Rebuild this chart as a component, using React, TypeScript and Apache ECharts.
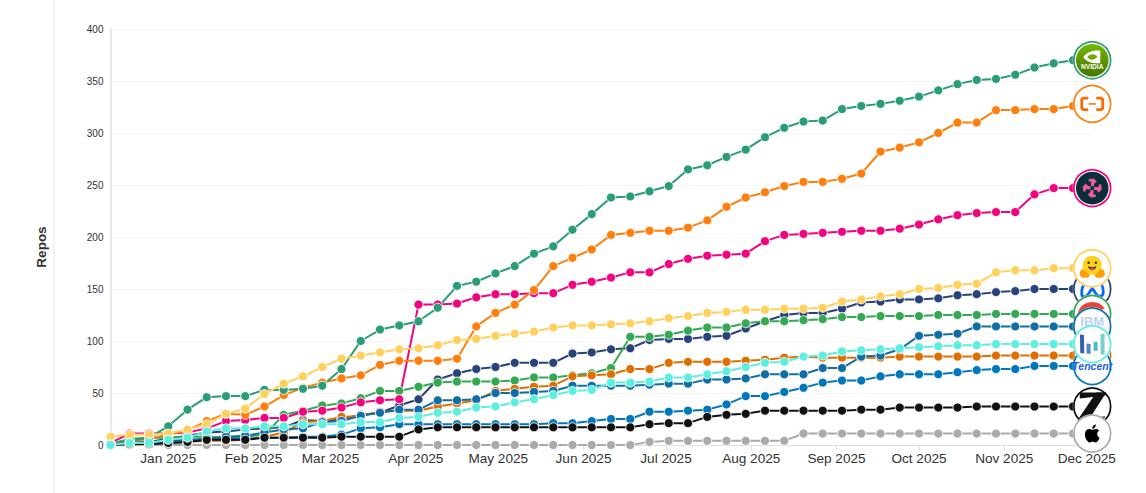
import React, { useEffect, useRef } from "react";
import * as echarts from "echarts";

const weeks = [
  "2024-12-11","2024-12-18","2024-12-25","2025-01-01","2025-01-08","2025-01-15","2025-01-22","2025-01-29",
  "2025-02-05","2025-02-12","2025-02-19","2025-02-26","2025-03-05","2025-03-12","2025-03-19","2025-03-26",
  "2025-04-02","2025-04-09","2025-04-16","2025-04-23","2025-04-30","2025-05-07","2025-05-14","2025-05-21","2025-05-28",
  "2025-06-04","2025-06-11","2025-06-18","2025-06-25","2025-07-02","2025-07-09","2025-07-16","2025-07-23","2025-07-30",
  "2025-08-06","2025-08-13","2025-08-20","2025-08-27","2025-09-03","2025-09-10","2025-09-17","2025-09-24",
  "2025-10-01","2025-10-08","2025-10-15","2025-10-22","2025-10-29","2025-11-05","2025-11-12","2025-11-19","2025-11-26","2025-12-03",
];
const monthTicks = ["2025-01-01","2025-02-01","2025-03-01","2025-04-01","2025-05-01","2025-06-01","2025-07-01","2025-08-01","2025-09-01","2025-10-01","2025-11-01","2025-12-01"];
const monthLabels = ["Jan 2025","Feb 2025","Mar 2025","Apr 2025","May 2025","Jun 2025","Jul 2025","Aug 2025","Sep 2025","Oct 2025","Nov 2025","Dec 2025"];

const nvidia = [1,4,7,18,34,46,47,47,53,53,54,57,73,100,111,115,119,132,153,157,165,172,184,191,207,222,238,239,244,249,265,269,277,284,296,305,311,312,323,326,328,331,335,341,347,351,352,356,363,367,370,370];
const alibaba = [1,3,6,10,14,23,30,29,37,48,55,60,64,67,77,81,81,81,83,114,127,135,149,172,180,188,202,204,206,206,209,216,229,238,243,249,253,253,256,261,282,286,291,300,310,310,322,322,323,323,326,328];
const pinkOrg = [2,11,11,11,12,16,23,24,26,26,32,33,36,41,43,44,135,135,136,142,145,145,146,146,154,157,161,166,166,174,179,182,183,184,196,202,203,204,205,206,206,208,212,217,221,223,224,224,241,247,247,247];
const huggingface = [8,10,10,11,15,20,30,35,49,59,66,75,83,86,89,92,93,96,101,102,105,107,109,113,115,115,116,117,119,122,124,127,128,130,130,131,131,132,138,140,143,145,150,151,154,155,166,168,168,170,170,170];
const meta = [2,2,3,6,9,12,13,15,16,17,24,23,25,29,31,38,44,63,69,73,75,79,79,79,88,89,92,93,101,102,102,104,105,112,119,125,127,127,131,137,138,140,140,141,144,145,147,148,150,150,150,150];
const google = [1,6,7,7,8,8,7,8,10,29,33,38,40,45,52,52,56,60,61,61,61,62,65,65,67,69,74,104,104,106,110,113,113,117,119,119,120,121,123,123,124,124,124,125,125,125,126,126,126,126,126,126];
const ibm = [0,2,3,4,5,6,8,9,12,15,16,22,23,28,31,34,34,43,43,44,50,50,51,52,57,57,57,57,58,59,59,63,63,64,68,68,68,74,74,85,86,92,105,106,107,114,114,114,114,114,114,114];
const darkOrangeOrg = [1,2,2,3,3,4,4,5,8,12,22,23,27,28,32,33,33,37,40,43,52,54,56,57,66,67,68,73,73,79,80,80,80,81,82,84,85,84,84,84,84,85,85,85,85,85,86,86,86,86,86,86];
const barsOrg = [0,2,2,5,7,13,16,16,18,18,20,20,20,22,22,26,27,31,32,36,37,41,44,48,52,53,60,60,61,65,65,68,71,75,79,80,85,86,90,91,92,93,94,95,96,96,97,97,97,97,97,97];
const tencent = [0,1,1,2,3,5,6,6,7,7,8,8,10,16,17,20,20,20,20,20,20,20,20,21,21,23,25,25,32,32,33,34,39,47,47,51,55,60,62,62,66,68,68,68,70,72,73,73,76,76,76,76];
const zhipu = [0,1,1,2,3,5,5,5,7,7,7,7,8,8,8,8,15,17,17,17,17,17,17,17,17,17,17,17,20,21,21,27,29,30,33,33,33,33,33,34,34,36,36,36,36,37,37,37,37,37,37,37];
const apple = [0,0,0,0,0,0,0,0,0,0,0,0,0,0,0,0,0,0,0,0,0,0,0,0,0,0,0,0,3,4,4,4,4,4,4,4,11,11,11,11,11,11,11,11,11,11,11,11,11,11,11,11];

const toTs = (s: string) => Date.parse(s + "T00:00:00Z");
const weekTs = weeks.map(toTs);
const tickTs = monthTicks.map(toTs);

const lineOrder: [string, number[], string][] = [
  ["Apple", apple, "#aaaaaa"],
  ["Meta", meta, "#27437a"],
  ["Google", google, "#34a853"],
  ["Pink", pinkOrg, "#f0047f"],
  ["Alibaba", alibaba, "#ff7f0e"],
  ["NVIDIA", nvidia, "#2a9d77"],
  ["Hugging Face", huggingface, "#ffd15c"],
  ["DarkOrange", darkOrangeOrg, "#df6f00"],
  ["Tencent", tencent, "#0077bb"],
  ["IBM", ibm, "#0f6ea5"],
  ["Zhipu", zhipu, "#111111"],
  ["Bars", barsOrg, "#5eeee0"],
];
const logoOrder = ["NVIDIA", "Alibaba", "Pink", "DarkOrange", "Tencent", "Meta", "Google", "Hugging Face", "IBM", "Zhipu", "Apple", "Bars"];

const APPLE_D =
  "M12.152 6.896c-.948 0-2.415-1.078-3.96-1.04-2.04.027-3.91 1.183-4.961 3.014-2.117 3.675-.546 9.103 1.519 12.09 1.013 1.454 2.208 3.09 3.792 3.039 1.52-.065 2.09-.987 3.935-.987 1.831 0 2.35.987 3.96.948 1.637-.026 2.676-1.48 3.676-2.948 1.156-1.688 1.636-3.325 1.662-3.415-.039-.013-3.182-1.221-3.22-4.857-.026-3.04 2.48-4.494 2.597-4.559-1.429-2.09-3.623-2.324-4.39-2.376-2-.156-3.675 1.09-4.61 1.09zM15.53 3.83c.843-1.012 1.4-2.427 1.245-3.83-1.207.052-2.662.805-3.532 1.818-.78.896-1.454 2.338-1.273 3.714 1.338.104 2.715-.688 3.559-1.701";

function rect(x: number, y: number, w: number, h: number, fill: string, r = 0) {
  return { type: "rect", shape: { x, y, width: w, height: h, r }, style: { fill } };
}
function poly(points: number[][], fill: string) {
  return { type: "polygon", shape: { points }, style: { fill } };
}
function logoParts(name: string): any[] {
  switch (name) {
    case "NVIDIA":
      return [
        {
          type: "circle",
          shape: { cx: 0, cy: 0, r: 16.3 },
          style: {
            fill: new echarts.graphic.LinearGradient(0, 0, 0, 1, [
              { offset: 0, color: "#76b900" },
              { offset: 1, color: "#477400" },
            ]),
          },
        },
        { type: "path", shape: { pathData: "M-9 -3 C-5 -9 2 -10 8 -9.5 L8 3 C2 3.5 -5 2.5 -9 -3 Z" }, style: { fill: "#ffffff" } },
        { type: "path", shape: { pathData: "M-5 -3 C-2 -7 3 -6.5 5 -3.5 C3 -0.5 -2 1 -5 -3 Z" }, style: { fill: "#6da900" } },
        { type: "text", style: { x: 0, y: 6, text: "NVIDIA", fill: "#ffffff", font: "bold 6.6px Liberation Sans", align: "center", verticalAlign: "middle" } },
      ];
    case "Alibaba":
      return [
        { type: "polyline", shape: { points: [[-4, -5.8], [-9, -5.8], [-10.5, -4.5], [-10.5, 4.5], [-9, 5.8], [-4, 5.8]] }, style: { stroke: "#ff6a00", lineWidth: 2.8, fill: "none" } },
        { type: "polyline", shape: { points: [[4, -5.8], [9, -5.8], [10.5, -4.5], [10.5, 4.5], [9, 5.8], [4, 5.8]] }, style: { stroke: "#ff6a00", lineWidth: 2.8, fill: "none" } },
        rect(-3.5, -0.7, 7, 1.5, "#ff6a00"),
      ];
    case "Pink": {
      const arm = [[-1.2, -1.8], [-1.2, -6.5], [-3.5, -6.5], [-3.5, -9], [1.5, -9.5], [4.5, -6.5], [1.8, -4], [1.8, -1.8]];
      const rot = (p: number[], k: number) =>
        k === 0 ? p : k === 1 ? [-p[1], p[0]] : k === 2 ? [-p[0], -p[1]] : [p[1], -p[0]];
      return [
        { type: "circle", shape: { cx: 0, cy: 0, r: 16.3 }, style: { fill: "#0b2f38" } },
        ...[0, 1, 2, 3].map((k) => poly(arm.map((p) => rot(p, k)), "#ee5a9c")),
      ];
    }
    case "Hugging Face":
      return [
        { type: "circle", shape: { cx: 0, cy: -3, r: 9.5 }, style: { fill: "#ffd21e" } },
        { type: "circle", shape: { cx: -3.6, cy: -5.5, r: 1.3 }, style: { fill: "#3a3b45" } },
        { type: "circle", shape: { cx: 3.6, cy: -5.5, r: 1.3 }, style: { fill: "#3a3b45" } },
        { type: "path", shape: { pathData: "M-4.2 -2 C-2 -1 2 -1 4.2 -2 C3.5 3 -3.5 3 -4.2 -2 Z" }, style: { fill: "#3a3b45" } },
        { type: "circle", shape: { cx: 0, cy: 0.6, r: 1.6 }, style: { fill: "#ef4e4e" } },
        { type: "path", shape: { pathData: "M-12.5 7 C-13 2 -10 0 -8 1.5 L-3 6 C-2 9 -4.5 9.5 -6 9.5 L-10 9.5 Z" }, style: { fill: "#ff9d0b" } },
        { type: "path", shape: { pathData: "M12.5 7 C13 2 10 0 8 1.5 L3 6 C2 9 4.5 9.5 6 9.5 L10 9.5 Z" }, style: { fill: "#ff9d0b" } },
      ];
    case "Meta":
      return [
        {
          type: "path",
          shape: { pathData: "M-10.5 5 C-11 -5 -5 -9 0 -1 L3.5 4.5 C6.5 9 11 8 11 3 C11 -7 5 -9 0 -1 L-3.5 4.5 C-6.5 9 -10.3 9 -10.5 5" },
          style: { fill: "none", stroke: "#0866ff", lineWidth: 2.8 },
        },
      ];
    case "Google":
      return [
        { type: "arc", shape: { cx: 0, cy: 3, r: 12.5, startAngle: (-165 * Math.PI) / 180, endAngle: (-35 * Math.PI) / 180, clockwise: true }, style: { fill: "none", stroke: "#ea4335", lineWidth: 5 } },
        { type: "arc", shape: { cx: 0, cy: 3, r: 12.5, startAngle: (150 * Math.PI) / 180, endAngle: (195 * Math.PI) / 180, clockwise: true }, style: { fill: "none", stroke: "#fbbc05", lineWidth: 5 } },
      ];
    case "IBM":
      return [
        { type: "text", style: { x: 0, y: -5, text: "IBM", fill: "#bcd0ee", font: "bold 13px Liberation Sans", align: "center", verticalAlign: "middle" } },
      ];
    case "Tencent":
      return [
        { type: "text", style: { x: 0, y: 0.5, text: "Tencent", fill: "#1f5fe0", font: "italic bold 10.5px Liberation Sans", align: "center", verticalAlign: "middle" } },
      ];
    case "Bars":
      return [
        poly([[-12.3, -9.7], [-8.3, -9], [-8, 9.3], [-12, 9]], "#3a5fb0"),
        poly([[-5.7, -0.7], [-1.7, 0], [-1.7, 10], [-5.7, 9.5]], "#4a86c8"),
        rect(1.3, -2.3, 4, 9, "#45c0c0"),
        poly([[8.3, -10], [12.3, -10.7], [12.3, 10.7], [8.3, 10.2]], "#7ccfc8"),
      ];
    case "Zhipu":
      return [
        poly([[-12.5, -14], [13, -14], [13, -11], [-12.5, -8]], "#111111"),
        poly([[4, -14], [14, -14], [-4, 14], [-15, 14]], "#111111"),
        poly([[1, 10.5], [13, 10], [11, 14], [-1, 14]], "#111111"),
      ];
    case "Apple":
      return [
        { type: "path", shape: { pathData: APPLE_D, x: -7.8, y: -9, width: 15.6, height: 18 }, style: { fill: "#000000" } },
      ];
    default:
      return [];
  }
}

export default function App() {
  const ref = useRef<HTMLDivElement>(null);
  useEffect(() => {
    const chart = echarts.init(ref.current!, undefined, { renderer: "svg" });
    const lineSeries = lineOrder.map(([name, values, color]) => ({
      name,
      type: "line",
      data: values.map((v, i) => [weekTs[i], v]),
      symbol: "circle",
      symbolSize: 9,
      showSymbol: true,
      showAllSymbol: true,
      silent: true,
      z: 2,
      lineStyle: { color, width: 2 },
      itemStyle: { color, borderColor: "rgba(255,255,255,0.85)", borderWidth: 1 },
    }));
    const logoSeries = logoOrder.map((name, idx) => {
      const entry = lineOrder.find((l) => l[0] === name)!;
      const values = entry[1];
      const color = entry[2];
      return {
        name: name + " logo",
        type: "custom",
        silent: true,
        z: 5 + idx,
        clip: false,
        data: [[weekTs[weekTs.length - 1], values[values.length - 1]]],
        renderItem: (_p: any, api: any) => {
          const c = api.coord([api.value(0), api.value(1)]);
          return {
            type: "group",
            x: c[0],
            y: c[1],
            children: [
              { type: "circle", shape: { cx: 0, cy: 0, r: 19.6 }, style: { fill: "rgba(255,255,255,0.6)" } },
              { type: "circle", shape: { cx: 0, cy: 0, r: 18.4 }, style: { fill: "#ffffff", stroke: color, lineWidth: 1.7 } },
              ...logoParts(name),
            ],
          };
        },
      };
    });
    chart.setOption({
      animation: false,
      backgroundColor: "#ffffff",
      grid: { left: 110.5, right: 53.75, top: 29, bottom: 48 },
      xAxis: {
        type: "value",
        min: weekTs[0],
        max: weekTs[weekTs.length - 1],
        splitLine: { show: false },
        axisLine: { show: true, onZero: false, lineStyle: { color: "#e0e0e0", width: 1 } },
        axisTick: { show: true, length: 5, lineStyle: { color: "#e0e0e0" }, customValues: tickTs },
        axisLabel: {
          customValues: tickTs,
          color: "#333333",
          fontFamily: "Liberation Sans",
          fontSize: 13.6,
          margin: 6,
          formatter: (v: number) => monthLabels[tickTs.indexOf(v)] ?? "",
        },
      },
      yAxis: {
        type: "value",
        min: 0,
        max: 400,
        interval: 50,
        name: "Repos",
        nameLocation: "middle",
        nameRotate: 90,
        nameGap: 62,
        nameTextStyle: { color: "#333333", fontFamily: "Liberation Sans", fontWeight: "bold", fontSize: 13.5, padding: [0, 20, 0, 0] },
        axisLine: { show: true, lineStyle: { color: "#e0e0e6", width: 1.5 } },
        axisTick: { show: false },
        axisLabel: { color: "#333333", fontFamily: "Liberation Sans", fontSize: 10, margin: 7 },
        splitLine: { lineStyle: { color: "#f6f6f6", width: 1 } },
      },
      graphic: [
        { type: "line", shape: { x1: 54, y1: 0, x2: 54, y2: 493 }, style: { stroke: "#eeeff2", lineWidth: 1.5 } },
      ],
      series: [...lineSeries, ...logoSeries],
    });
    return () => chart.dispose();
  }, []);
  return <div ref={ref} style={{ position: "fixed", left: 0, top: 0, width: 1146, height: 493 }} />;
}
